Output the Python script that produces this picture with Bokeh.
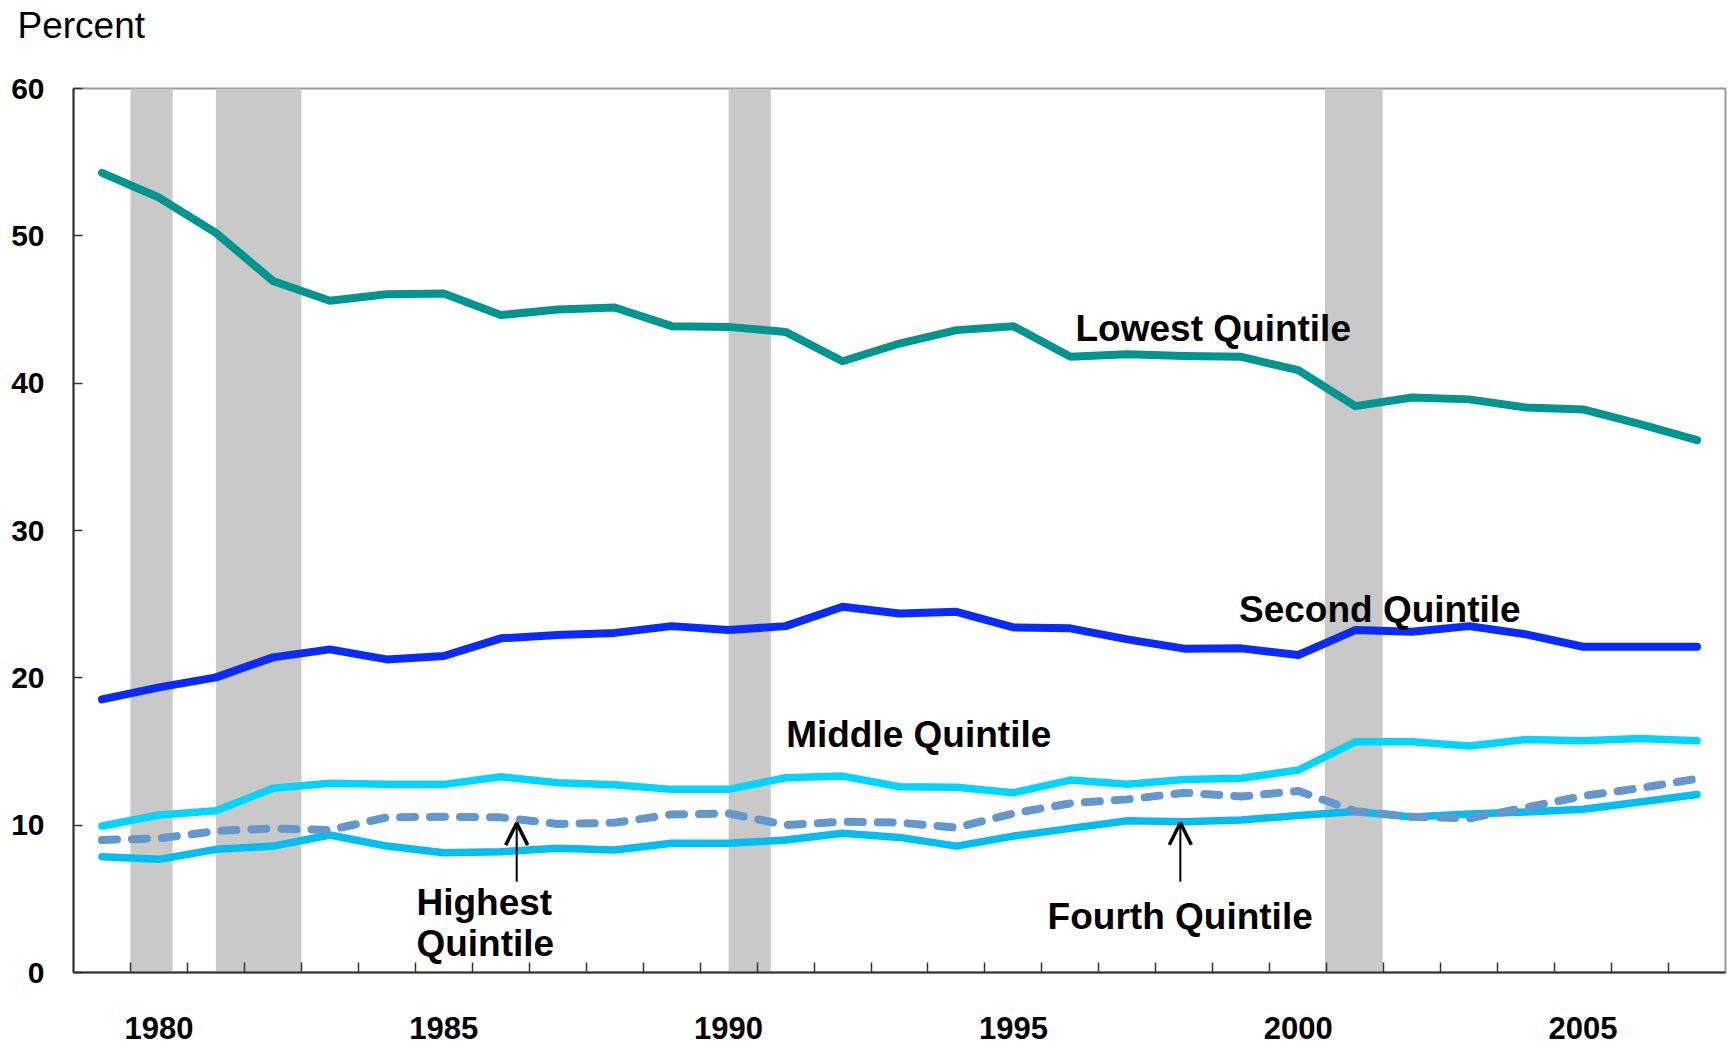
from bokeh.plotting import figure
from bokeh.models import Range1d, FixedTicker, Arrow, OpenHead
from bokeh.core.properties import value
from bokeh.embed import file_html
from bokeh.resources import INLINE

years = list(range(1979, 2008))
lowest = [54.27, 52.6, 50.2, 46.94, 45.59, 46.04, 46.09, 44.62, 45.0, 45.14,
          43.87, 43.82, 43.48, 41.49, 42.69, 43.6, 43.87, 41.79, 41.97, 41.85,
          41.79, 40.88, 38.44, 39.03, 38.9, 38.35, 38.22, 37.22, 36.13]
second = [18.54, 19.35, 20.03, 21.39, 21.93, 21.25, 21.48, 22.68, 22.9, 23.05,
          23.51, 23.24, 23.51, 24.82, 24.37, 24.48, 23.42, 23.36, 22.61, 21.98,
          22.0, 21.55, 23.24, 23.13, 23.51, 22.95, 22.11, 22.11, 22.11]
middle = [9.94, 10.69, 10.98, 12.5, 12.84, 12.77, 12.77, 13.29, 12.88, 12.74,
          12.43, 12.43, 13.22, 13.33, 12.61, 12.57, 12.2, 13.06, 12.77, 13.1,
          13.18, 13.74, 15.66, 15.66, 15.37, 15.82, 15.73, 15.89, 15.73]
fourth = [7.86, 7.68, 8.36, 8.58, 9.33, 8.58, 8.13, 8.2, 8.43, 8.31,
          8.77, 8.77, 8.99, 9.45, 9.17, 8.58, 9.26, 9.78, 10.3, 10.23,
          10.35, 10.66, 10.93, 10.56, 10.75, 10.89, 11.08, 11.57, 12.08]
highest = [8.99, 9.1, 9.6, 9.78, 9.67, 10.53, 10.57, 10.53, 10.08, 10.17,
           10.73, 10.8, 10.01, 10.23, 10.17, 9.83, 10.8, 11.48, 11.75, 12.2,
           11.94, 12.32, 10.95, 10.57, 10.46, 11.2, 11.98, 12.52, 13.15]

# recession shading (start, end in year units)
rec_start = [1979.5, 1981.0, 1990.0, 2000.47]
rec_end = [1980.24, 1982.5, 1990.74, 2001.48]

year_labels = [1980, 1985, 1990, 1995, 2000, 2005]
y_ticks = [0, 10, 20, 30, 40, 50, 60]

# annotation texts
ann_text = ["Lowest Quintile", "Second Quintile", "Middle Quintile",
            "Highest", "Quintile", "Fourth Quintile"]
ann_x = [1996.09, 1998.96, 1991.01, 1984.52, 1984.52, 1995.6]
ann_y = [43.68, 24.62, 16.13, 4.78, 1.95, 3.83]

arrow_x = [1986.28, 1997.93]
arrow_tip = [10.14, 10.16]
arrow_tail = [6.16, 6.16]

unit_label = "Percent"

FONT = "Liberation Sans"

p = figure(frame_width=1652, frame_height=884,
           output_backend="svg", toolbar_location=None,
           x_range=Range1d(1978.5, 2007.5), y_range=Range1d(0, 60),
           min_border_left=73, min_border_right=5, min_border_top=88,
           min_border_bottom=72, background_fill_color="white")

# unit label, lifted toward the top edge by a trailing empty line
p.title.text = unit_label + "\n"
p.title.text_font = FONT
p.title.text_font_size = "37px"
p.title.text_font_style = "normal"
p.title.text_color = "black"
p.title.text_line_height = 1.0
p.title.align = "left"
p.title.offset = -56
p.title.standoff = 4

p.xgrid.visible = False
p.ygrid.visible = False
p.outline_line_color = "#999999"
p.outline_line_width = 2

p.quad(left=rec_start, right=rec_end, bottom=0, top=60,
       fill_color="#C9C9C9", line_color=None)

p.line(years, lowest, line_color="#00958F", line_width=8, line_cap="round", line_join="round")
p.line(years, second, line_color="#0A2BFF", line_width=8, line_cap="round", line_join="round")
p.line(years, middle, line_color="#00D5FF", line_width=7.5, line_cap="round", line_join="round")
p.line(years, fourth, line_color="#00BDF2", line_width=7.5, line_cap="round", line_join="round")
p.line(years, highest, line_color="#6497CB", line_width=8, line_cap="round",
       line_join="round", line_dash="15 15")

p.text(x=ann_x, y=ann_y, text=ann_text, text_font=value(FONT),
       text_font_style="bold", text_font_size="37px", text_color="black",
       text_align="left", text_baseline="alphabetic")

for ax, tip, tail in zip(arrow_x, arrow_tip, arrow_tail):
    p.add_layout(Arrow(end=OpenHead(size=22, line_width=3.5, line_color="black"),
                       x_start=ax, y_start=tail, x_end=ax, y_end=tip,
                       line_width=2, line_color="black"))

xa = p.xaxis[0]
xa.ticker = FixedTicker(ticks=year_labels, minor_ticks=[y + 0.5 for y in years[:-1]])
xa.major_tick_in = 0
xa.major_tick_out = 0
xa.minor_tick_in = 10
xa.minor_tick_out = 0
xa.minor_tick_line_color = "#333333"
xa.minor_tick_line_width = 1.5
xa.axis_line_color = "#333333"
xa.axis_line_width = 2
xa.major_label_text_font = FONT
xa.major_label_text_font_style = "bold"
xa.major_label_text_font_size = "31px"
xa.major_label_text_color = "black"
xa.major_label_standoff = 44

ya = p.yaxis[0]
ya.ticker = FixedTicker(ticks=y_ticks, minor_ticks=[])
ya.major_tick_in = 9
ya.major_tick_out = 0
ya.major_tick_line_color = "#333333"
ya.major_tick_line_width = 1.5
ya.axis_line_color = "#333333"
ya.axis_line_width = 2
ya.major_label_text_font = FONT
ya.major_label_text_font_style = "bold"
ya.major_label_text_font_size = "30px"
ya.major_label_text_color = "black"
ya.major_label_standoff = 29

open("out.html", "w").write(file_html(p, INLINE))
